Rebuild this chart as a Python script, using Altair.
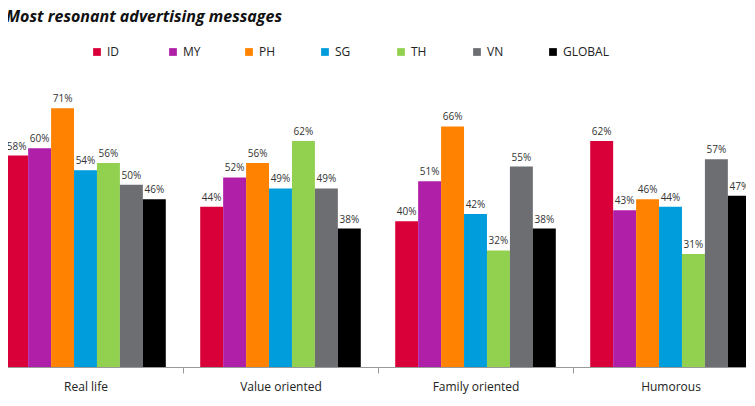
import pandas as pd
import altair as alt

categories = ["Real life", "Value oriented", "Family oriented", "Humorous"]
markets = ["ID", "MY", "PH", "SG", "TH", "VN", "GLOBAL"]
colors = ["#d9003a", "#b01fa8", "#ff8200", "#009ddc", "#92d050", "#6d6e71", "#000000"]
values = {
    "ID": [58, 44, 40, 62],
    "MY": [60, 52, 51, 43],
    "PH": [71, 56, 66, 46],
    "SG": [54, 49, 42, 44],
    "TH": [56, 62, 32, 31],
    "VN": [50, 49, 55, 57],
    "GLOBAL": [46, 38, 38, 47],
}

rows = []
for m in markets:
    for c, v in zip(categories, values[m]):
        rows.append({"category": c, "market": m, "value": v, "label": f"{v}%"})
df = pd.DataFrame(rows)

x = alt.X("category:N", sort = categories, title = None,
          scale = alt.Scale(paddingInner = 0, paddingOuter = 0),
          axis = alt.Axis(labelAngle = 0, labelFontSize = 12, labelColor = "#222", labelPadding = 8,
                          domainColor = "#999", tickColor = "#999", tickBand = "extent", tickSize = 6,
                          labelFont = "Open Sans"))
y = alt.Y("value:Q", scale = alt.Scale(domain = [0, 90]), axis = None)
xoff = alt.XOffset("market:N", sort = markets, scale = alt.Scale(paddingInner = 0, paddingOuter = 0.75))
color = alt.Color("market:N", sort = markets, scale = alt.Scale(domain = markets, range = colors),
                  legend = alt.Legend(title = None, orient = "none", direction = "horizontal",
                                      legendX = 103, legendY = 7, symbolType = "square", symbolSize = 60,
                                      symbolStrokeWidth = 0, labelFontSize = 12, labelFont = "Open Sans",
                                      columnPadding = 14, gridAlign = "all", labelColor = "#222"))

bars = alt.Chart(df).mark_bar().encode(x = x, y = y, xOffset = xoff, color = color)
labels = alt.Chart(df).mark_text(dy = -9, fontSize = 10, color = "#333", font = "Open Sans").encode(
    x = x, y = y, xOffset = xoff, text = "label:N")

chart = alt.layer(bars, labels).properties(
    width = 780, height = 328,
    padding = {"left": -20, "top": 31, "right": -22, "bottom": 30},
    autosize = alt.AutoSizeParams(type = "none"),
    title = alt.TitleParams("Most resonant advertising messages", anchor = "start", frame = "group",
                            dx = 18, dy = -2, offset = 12, fontSize = 16, font = "Open Sans",
                            fontStyle = "italic", fontWeight = "bold", color = "#111"),
).configure_view(stroke = None)

chart.save("out.html", embed_options = {"renderer": "svg", "actions": False})
